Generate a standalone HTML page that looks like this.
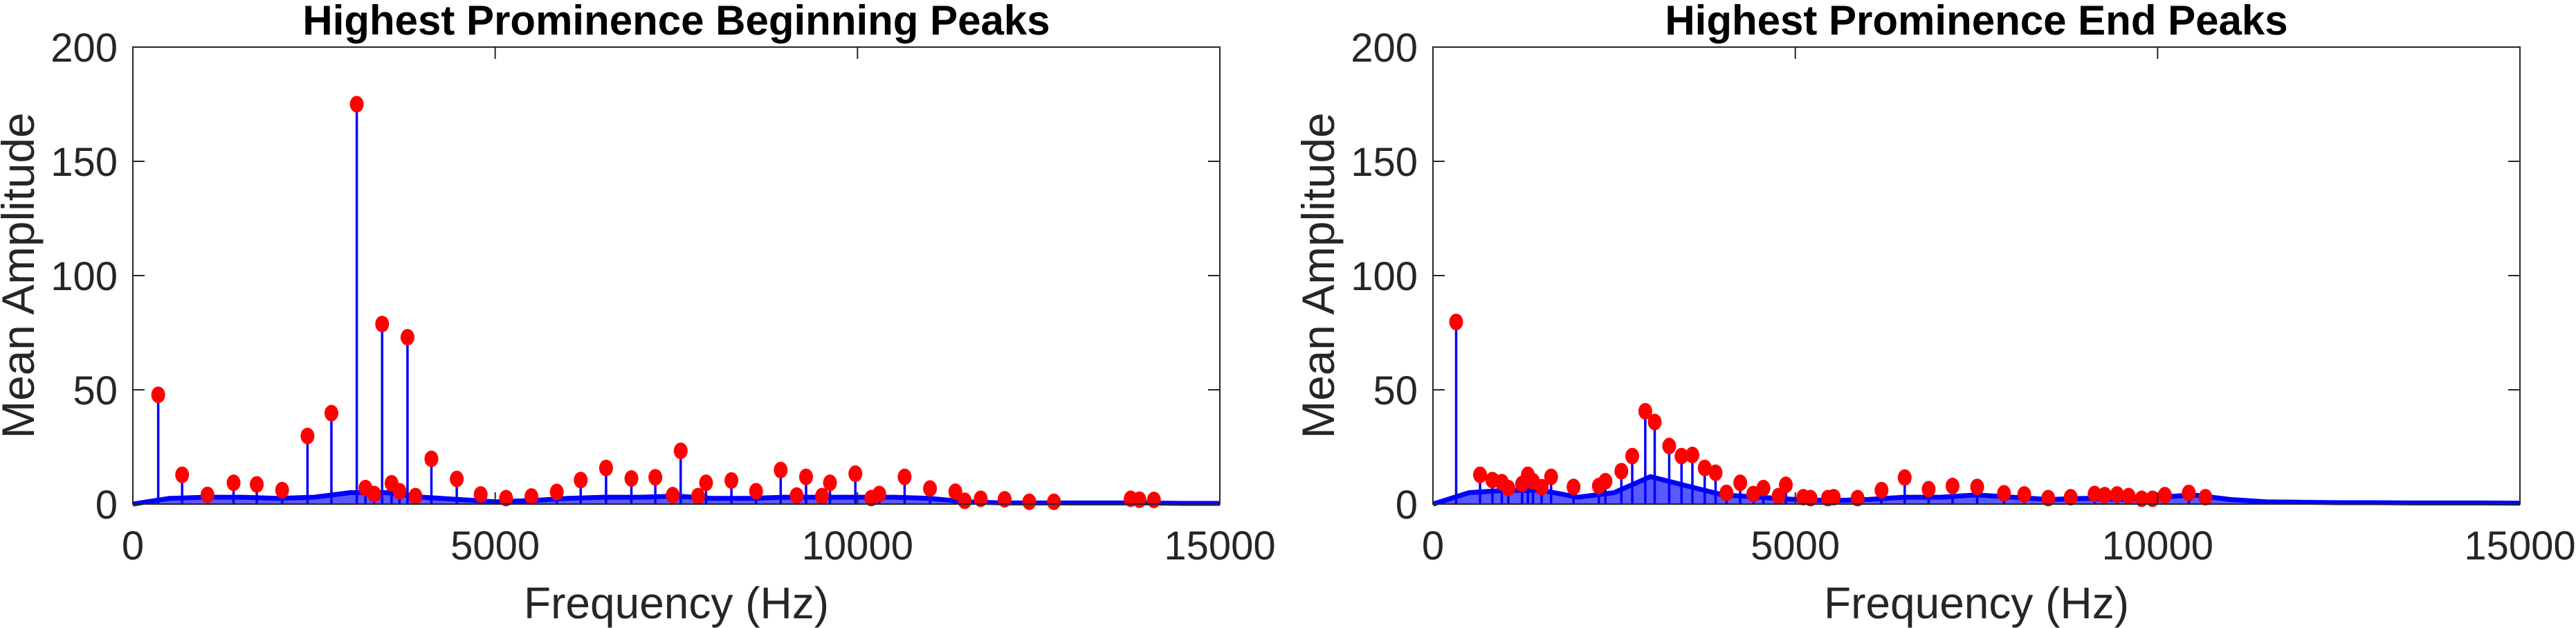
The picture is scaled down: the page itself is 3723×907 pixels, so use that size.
<!DOCTYPE html>
<html><head><meta charset="utf-8">
<style>
html,body{margin:0;padding:0;background:#fff;}
svg{display:block;}
text{font-family:"Liberation Sans",Arial,sans-serif;fill:#262626;}
</style></head>
<body>
<svg id="fig" width="3723" height="907" viewBox="0 0 3723 907" xmlns="http://www.w3.org/2000/svg"></svg>
<script>
// ---- Data ----
const xTicks = [0, 5000, 10000, 15000];
const yTicks = [0, 50, 100, 150, 200];
const envFreq = [0,500,1000,1500,2000,2500,3000,3500,4000,4500,5000,5500,6000,6500,7000,7500,8000,8500,9000,9500,10000,10500,11000,11500,12000,12500,13000,13500,14000,14500,15000];
const envBegin = [0,2.5,3,3,2.5,3,5,5,3,2,1,1.5,2.5,3,3,3.5,2.5,2.5,3,3,3,3,2.5,1,0.5,0.5,0.5,0.5,0.5,0.3,0.3];
const envEnd = [0,5,6,6,3,5,12,8,4,3,2,1.5,2,3,3,4,3,2,2.5,2,3,4,2,1,0.8,0.6,0.6,0.5,0.5,0.5,0.4];
const peakFreqBegin = [350,680,1030,1390,1710,2060,2410,2740,3090,3210,3330,3440,3570,3680,3790,3900,4120,4470,4800,5150,5500,5850,6180,6530,6880,7210,7450,7560,7800,7910,8260,8600,8940,9160,9290,9510,9620,9970,10190,10300,10650,11000,11350,11480,11700,12030,12370,12710,13770,13890,14090];
const peakAmpBegin = [47.8,12.8,4,9.3,8.6,6.1,29.8,39.8,175,7,4.4,78.8,9.1,5.6,73,3.5,19.8,11,4.2,2.6,3.3,5.3,10.5,15.8,11.2,11.7,3.9,23.3,3.5,9.3,10.3,5.6,14.9,3.7,11.9,3.5,9.3,13.3,2.6,4.4,11.9,6.8,5.4,1.4,2.3,2.1,1,1,2.3,1.9,1.8];
const peakFreqEnd = [320,650,820,950,1040,1230,1310,1380,1500,1630,1940,2290,2380,2600,2750,2930,3060,3260,3430,3580,3750,3900,4050,4240,4420,4560,4770,4870,5110,5210,5450,5530,5860,6190,6510,6840,7170,7510,7880,8160,8490,8800,9130,9270,9440,9600,9780,9930,10100,10430,10660];
const peakAmpEnd = [79.7,12.8,10.5,9.6,7,8.8,12.8,10,7.4,11.9,7.5,7.9,10,14.4,21,40.6,35.9,25.4,21,21.5,15.8,13.7,4.9,9.3,4.4,7,3.5,8.4,3,2.6,2.6,3,2.6,6.1,11.6,6.5,7.9,7.5,4.7,4.2,2.6,3,4.4,3.9,4.2,3.5,2.3,2.3,3.9,4.9,3];

const NS = "http://www.w3.org/2000/svg";
const svg = document.getElementById('fig');
function mk(tag, attrs, parent){
  const e = document.createElementNS(NS, tag);
  for (const k in attrs) e.setAttribute(k, attrs[k]);
  (parent||svg).appendChild(e);
  return e;
}

function panel(left, right, title, envVals, pf, pa, key){
  const top = 68, bottom = 728;
  const g = mk('g', {});
  
  
  const xs = f => left + (f/15000)*(right-left);
  const ys = a => bottom - (a/200)*(bottom-top);

  let d = 'M' + xs(envFreq[0]) + ',' + ys(0);
  envFreq.forEach((f,i)=>{ d += ' L' + xs(f).toFixed(1) + ',' + ys(envVals[i]).toFixed(1); });
  d += ' L' + xs(15000) + ',' + ys(0) + ' Z';
  const area = mk('path', {d:d, fill:'#2f2fff', 'fill-opacity':'0.8', stroke:'none'}, g);
  
  
  let pd = '';
  envFreq.forEach((f,i)=>{ pd += (i?' L':'M') + xs(f).toFixed(1) + ',' + ys(envVals[i]).toFixed(1); });
  const line = mk('path', {d:pd, fill:'none', stroke:'#0000ff', 'stroke-width':'7', 'stroke-linejoin':'round'}, g);
  
  

  pf.forEach((f,i)=>{
    const st = mk('line', {x1:xs(f), x2:xs(f), y1:ys(0), y2:ys(pa[i]), stroke:'#0000ff', 'stroke-width':'3.5'}, g);
    
    
  });
  pf.forEach((f,i)=>{
    const c = mk('ellipse', {cx:xs(f), cy:ys(pa[i]), rx:10, ry:12, fill:'#ff0000'}, g);
    
    
  });

  const box = mk('rect', {x:left, y:top, width:right-left, height:bottom-top, fill:'none', stroke:'#262626', 'stroke-width':'2'}, g);
  
  

  xTicks.forEach(t=>{
    const x = xs(t);
    mk('line', {x1:x, x2:x, y1:bottom, y2:bottom-17, stroke:'#262626', 'stroke-width':'2'}, g);
    mk('line', {x1:x, x2:x, y1:top, y2:top+17, stroke:'#262626', 'stroke-width':'2'}, g);
    const tl = mk('text', {x:x, y:808, 'font-size':'58', 'text-anchor':'middle'}, g);
    tl.textContent = t;
    
    
  });
  yTicks.forEach(t=>{
    const y = ys(t);
    mk('line', {x1:left, x2:left+17, y1:y, y2:y, stroke:'#262626', 'stroke-width':'2'}, g);
    mk('line', {x1:right, x2:right-17, y1:y, y2:y, stroke:'#262626', 'stroke-width':'2'}, g);
    const tl = mk('text', {x:left-22, y:y+21, 'font-size':'58', 'text-anchor':'end'}, g);
    tl.textContent = t;
    
    
  });

  const tt = mk('text', {x:(left+right)/2, y:50, 'font-size':'60', 'font-weight':'bold', 'text-anchor':'middle', style:'fill:#000'}, g);
  tt.textContent = title;
  
  

  const xl = mk('text', {x:(left+right)/2, y:893, 'font-size':'64', 'text-anchor':'middle'}, g);
  xl.textContent = 'Frequency (Hz)';
  
  

  const cy = (top+bottom)/2, bx = left - 143;
  const yl = mk('text', {x:bx, y:cy, 'font-size':'66', 'text-anchor':'middle', textLength:'471', lengthAdjust:'spacingAndGlyphs', transform:'rotate(-90 '+bx+' '+cy+')'}, g);
  yl.textContent = 'Mean Amplitude';
  
  
}

panel(192, 1763, 'Highest Prominence Beginning Peaks', envBegin, peakFreqBegin, peakAmpBegin, 'beginning');
panel(2071, 3642, 'Highest Prominence End Peaks', envEnd, peakFreqEnd, peakAmpEnd, 'end');
</script>
</body></html>
